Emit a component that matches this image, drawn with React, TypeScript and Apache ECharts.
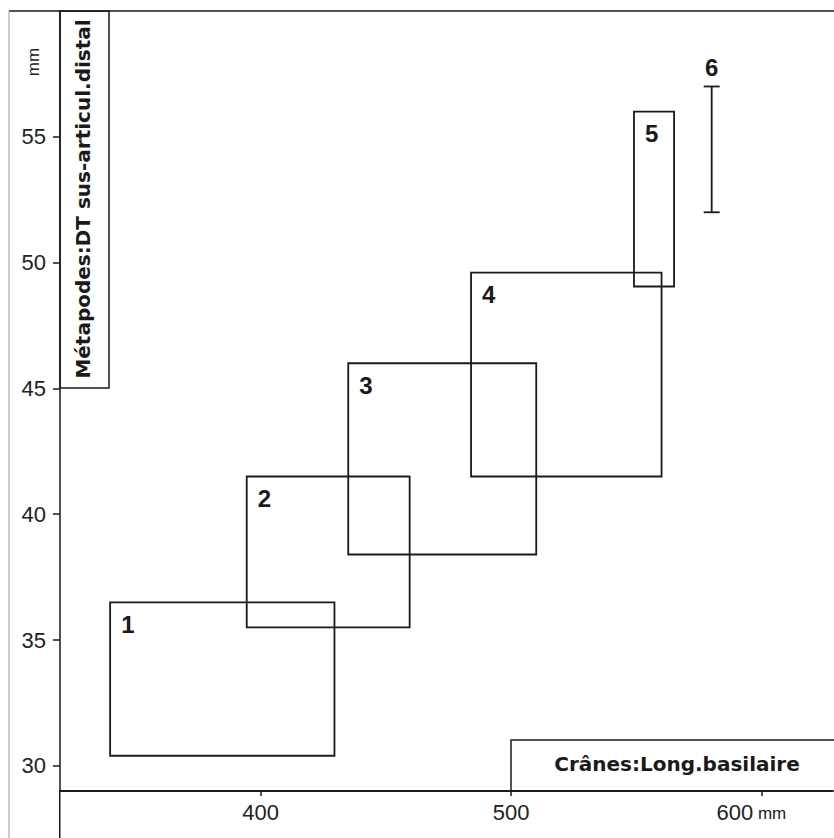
import React, { useEffect, useRef } from "react";
import * as echarts from "echarts";

// ---- data ----
const boxLabels = ["1", "2", "3", "4", "5"];
const boxXMin = [340, 394.5, 435, 484, 549];
const boxXMax = [429.5, 459.5, 510, 560, 565];
const boxYMin = [30.4, 35.5, 38.4, 41.5, 49.05];
const boxYMax = [36.5, 41.5, 46.0, 49.6, 56.0];

const rangeLabels = ["6"];
const rangeX = [580];
const rangeYMin = [52.0];
const rangeYMax = [57.0];

const xTicks = [400, 500, 600];
const yTicks = [30, 35, 40, 45, 50, 55];
const xRange = [320, 628];
const yRange = [29, 60];

const INK = "#1a1a1a";
const NARROW = "'Liberation Sans Narrow', 'Liberation Sans', Arial, sans-serif";
const BOLD_FONT = "'DejaVu Sans', 'Liberation Sans', sans-serif";
const NUM_FONT = "'Liberation Sans', Arial, sans-serif";

export default function App() {
  const ref = useRef<HTMLDivElement>(null);

  useEffect(() => {
    if (!ref.current) return;
    const chart = echarts.init(ref.current, undefined, { renderer: "svg" });

    const boxData = boxLabels.map((l, i) => [boxXMin[i], boxXMax[i], boxYMin[i], boxYMax[i], l]);
    const rangeData = rangeLabels.map((l, i) => [rangeX[i], rangeYMin[i], rangeYMax[i], l]);

    const option: any = {
      animation: false,
      backgroundColor: "#ffffff",
      grid: { left: 60, right: 2, top: 11, bottom: 47, containLabel: false, outerBoundsMode: "none" },
      xAxis: {
        type: "value",
        min: xRange[0],
        max: xRange[1],
        splitLine: { show: false },
        axisLine: { show: true, onZero: false, lineStyle: { color: INK, width: 2 } },
        axisTick: { show: true, customValues: xTicks, length: 5, lineStyle: { color: INK, width: 1.5 } },
        axisLabel: {
          customValues: xTicks,
          margin: 10,
          color: "#222",
          fontFamily: NARROW,
          fontSize: 22,
          formatter: (v: number) => (v === 600 ? "{n|600}{u| mm}{p|}" : "{n|" + v + "}"),
          rich: {
            n: { fontFamily: NARROW, fontSize: 22, color: "#222" },
            u: { fontFamily: NARROW, fontSize: 17, color: "#222", padding: [3, 0, 0, 0] },
            p: { width: 21 },
          },
        },
      },
      yAxis: {
        type: "value",
        min: yRange[0],
        max: yRange[1],
        splitLine: { show: false },
        axisLine: { show: true, onZero: false, lineStyle: { color: INK, width: 1.5 } },
        axisTick: { show: true, customValues: yTicks, length: 7, lineStyle: { color: INK, width: 1.5 } },
        axisLabel: {
          customValues: yTicks,
          margin: 14,
          color: "#222",
          fontFamily: NARROW,
          fontSize: 22,
        },
      },
      series: [
        {
          type: "custom",
          name: "boxes",
          data: boxData,
          encode: { x: [0, 1], y: [2, 3] },
          renderItem: (params: any, api: any) => {
            const x0 = api.value(0);
            const x1 = api.value(1);
            const y0 = api.value(2);
            const y1 = api.value(3);
            const tl = api.coord([x0, y1]);
            const br = api.coord([x1, y0]);
            const label = boxLabels[params.dataIndex];
            return {
              type: "group",
              children: [
                {
                  type: "rect",
                  shape: { x: tl[0], y: tl[1], width: br[0] - tl[0], height: br[1] - tl[1] },
                  style: { fill: "none", stroke: INK, lineWidth: 1.8 },
                },
                {
                  type: "text",
                  style: {
                    text: label,
                    x: tl[0] + 11,
                    y: tl[1] + 22,
                    fill: INK,
                    fontSize: 24,
                    fontWeight: "bold",
                    fontFamily: NUM_FONT,
                    align: "left",
                    verticalAlign: "middle",
                    textAlign: "left",
                    textVerticalAlign: "middle",
                  },
                },
              ],
            };
          },
        },
        {
          type: "custom",
          name: "range",
          data: rangeData,
          encode: { x: 0, y: [1, 2] },
          renderItem: (params: any, api: any) => {
            const x = api.value(0);
            const lo = api.coord([x, api.value(1)]);
            const hi = api.coord([x, api.value(2)]);
            const cap = 8;
            const label = rangeLabels[params.dataIndex];
            const ls = { stroke: INK, lineWidth: 1.8 };
            return {
              type: "group",
              children: [
                { type: "line", shape: { x1: lo[0], y1: lo[1], x2: hi[0], y2: hi[1] }, style: ls },
                { type: "line", shape: { x1: hi[0] - cap, y1: hi[1], x2: hi[0] + cap, y2: hi[1] }, style: ls },
                { type: "line", shape: { x1: lo[0] - cap, y1: lo[1], x2: lo[0] + cap, y2: lo[1] }, style: ls },
                {
                  type: "text",
                  style: {
                    text: label,
                    x: hi[0],
                    y: hi[1] - 19,
                    fill: INK,
                    fontSize: 24,
                    fontWeight: "bold",
                    fontFamily: NUM_FONT,
                    align: "center",
                    verticalAlign: "middle",
                    textAlign: "center",
                    textVerticalAlign: "middle",
                  },
                },
              ],
            };
          },
        },
      ],
      graphic: [
        { type: "line", shape: { x1: 9, y1: 11, x2: 834, y2: 11 }, style: { stroke: INK, lineWidth: 1.5 } },
        { type: "line", shape: { x1: 9, y1: 11, x2: 9, y2: 838 }, style: { stroke: "#9a9a9a", lineWidth: 1 } },
        { type: "line", shape: { x1: 59.75, y1: 790, x2: 59.75, y2: 838 }, style: { stroke: INK, lineWidth: 1.5 } },
        { type: "rect", shape: { x: 60, y: 11, width: 49, height: 377 }, style: { fill: "none", stroke: INK, lineWidth: 1.5 } },
        {
          type: "text",
          x: 83,
          y: 199,
          rotation: Math.PI / 2,
          style: {
            text: "Métapodes:DT sus-articul.distal",
            fill: INK,
            fontSize: 20,
            fontWeight: "bold",
            fontFamily: BOLD_FONT,
            textAlign: "center",
            textVerticalAlign: "middle",
            align: "center",
            verticalAlign: "middle",
          },
        },
        {
          type: "text",
          x: 33,
          y: 62,
          rotation: Math.PI / 2,
          style: {
            text: "mm",
            fill: "#222",
            fontSize: 17,
            fontFamily: NARROW,
            textAlign: "center",
            textVerticalAlign: "middle",
            align: "center",
            verticalAlign: "middle",
          },
        },
        { type: "rect", shape: { x: 511, y: 740, width: 330, height: 51 }, style: { fill: "none", stroke: INK, lineWidth: 1.5 } },
        {
          type: "text",
          x: 677,
          y: 764,
          style: {
            text: "Crânes:Long.basilaire",
            fill: INK,
            fontSize: 20,
            fontWeight: "bold",
            fontFamily: BOLD_FONT,
            textAlign: "center",
            textVerticalAlign: "middle",
            align: "center",
            verticalAlign: "middle",
          },
        },
      ],
    };

    chart.setOption(option);
    return () => chart.dispose();
  }, []);

  return (
    <div
      ref={ref}
      style={{ position: "absolute", left: 0, top: 0, width: 834, height: 838, background: "#fff" }}
    />
  );
}
